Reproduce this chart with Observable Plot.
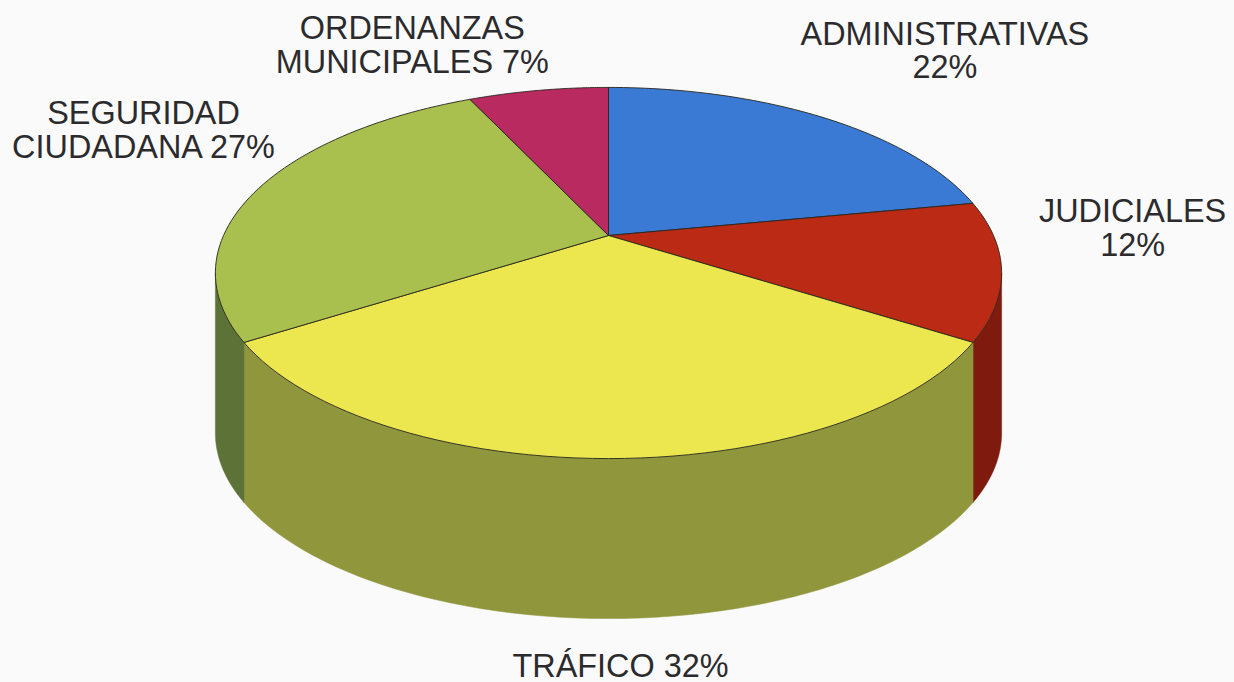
<!DOCTYPE html>
<html lang="es">
<head>
<meta charset="utf-8">
<script src="https://cdn.jsdelivr.net/npm/d3@7"></script>
<script src="https://cdn.jsdelivr.net/npm/@observablehq/plot@0.6"></script>
<style>
  html, body { margin: 0; padding: 0; background: #fbfafa; }
  svg { display: block; }
</style>
</head>
<body>
<div id="chart"></div>
<script>
// Data
const categories = ["ADMINISTRATIVAS", "JUDICIALES", "TRÁFICO", "SEGURIDAD CIUDADANA", "ORDENANZAS MUNICIPALES"];
const percentages = [22, 12, 32, 27, 7];
const labelTexts = ["ADMINISTRATIVAS\n22%", "JUDICIALES\n12%", "TRÁFICO 32%", "SEGURIDAD\nCIUDADANA 27%", "ORDENANZAS\nMUNICIPALES 7%"];

// Styling and layout, separate from the data
const topColors = ["#3a7ad4", "#bb2a14", "#ece74f", "#a9bf4e", "#b92a60"];
const sideColors = ["#2c5ca0", "#7e1a0e", "#8f963c", "#5c7237", "#8a2048"];
const labelOffsets = [[124, -66], [131, -42], [12, 208], [-115, -58], [-126, -45]];

const W = 1234, H = 682;
const cx = 608, cy = 235;      // pixel position of the pie centre
const a = 385, b = 178, k = 0.2021; // perspective of the tilted disc
const depth = 160 / b;         // height of the cylinder, in disc units

// Point on the perspective disc, at clockwise fraction f from the top
const at = (f) => {
  const t = 2 * Math.PI * f, u = Math.sin(t), v = Math.cos(t), w = 1 + k * v;
  return [u / w, v / w];
};
const arc = (f0, f1) => d3.range(0, 61).map((i) => at(f0 + (f1 - f0) * i / 60));

// The wall of the cylinder is visible between the two silhouette points of the rim
const frontStart = Math.acos(-k) / (2 * Math.PI);
const frontEnd = 1 - frontStart;

let acc = 0;
const slices = categories.map((name, i) => {
  const f0 = acc / 100;
  acc += percentages[i];
  return { name, f0, f1: acc / 100, mid: (f0 + acc / 100) / 2, i };
});

const ring = ([x, y], key) => ({ x, y, key });
const sideRows = slices.flatMap((s) => {
  const f0 = Math.max(s.f0, frontStart), f1 = Math.min(s.f1, frontEnd);
  if (f1 <= f0) return [];
  const key = "side " + s.name, rim = arc(f0, f1);
  return [
    ...rim.map((p) => ring(p, key)),
    ...rim.slice().reverse().map(([x, y]) => ring([x, y - depth], key)),
    ring(rim[0], key)
  ];
});
const topRows = slices.flatMap((s) => {
  const key = "top " + s.name;
  return [[0, 0], ...arc(s.f0, s.f1), [0, 0]].map((p) => ring(p, key));
});

const labelMarks = slices.map((s, i) => {
  const [x, y] = at(s.mid);
  return Plot.text([labelTexts[i]], {
    x: () => x,
    y: () => y,
    text: (d) => d,
    dx: labelOffsets[i][0],
    dy: labelOffsets[i][1],
    fontSize: 32.4,
    lineHeight: 1.04,
    fontFamily: "Liberation Sans, Arial, sans-serif",
    fill: "#2b2b2d",
    textAnchor: "middle"
  });
});

const plot = Plot.plot({
  width: W,
  height: H,
  margin: 0,
  style: { background: "transparent", overflow: "visible" },
  x: { axis: null, domain: [-cx / a, (W - cx) / a], range: [0, W] },
  y: { axis: null, domain: [cy / b, (cy - H) / b], range: [0, H] },
  color: {
    domain: [...categories.map((c) => "top " + c), ...categories.map((c) => "side " + c)],
    range: [...topColors, ...sideColors]
  },
  marks: [
    Plot.line(sideRows, { x: "x", y: "y", z: "key", fill: "key", stroke: "key", strokeWidth: 0.5, curve: "linear" }),
    Plot.line(topRows, { x: "x", y: "y", z: "key", fill: "key", stroke: "#26261c", strokeWidth: 0.9, curve: "linear" }),
    ...labelMarks
  ]
});
document.getElementById("chart").append(plot);
</script>
</body>
</html>
